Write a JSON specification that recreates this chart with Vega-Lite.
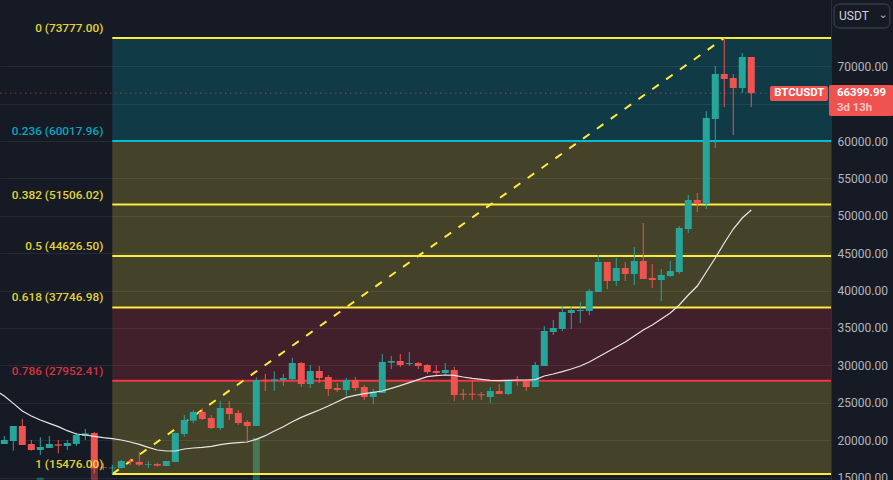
{"$schema":"https://vega.github.io/schema/vega-lite/v6.json","width":831,"height":480,"autosize":{"type":"none"},"padding":{"left":0,"top":0,"right":62,"bottom":0},"background":"#161a25","view":{"stroke":null},"config":{"scale":{"continuousPadding":0}},
"datasets":{
"candles":[
{"week":0,"open":19483,"high":20553,"low":19483,"close":20018,"direction":"up"},
{"week":1,"open":19884,"high":21890,"low":18591,"close":21890,"direction":"up"},
{"week":2,"open":21890,"high":22826,"low":19349,"close":19349,"direction":"down"},
{"week":3,"open":19483,"high":20018,"low":18591,"close":18681,"direction":"down"},
{"week":4,"open":18681,"high":20375,"low":18012,"close":19082,"direction":"up"},
{"week":5,"open":18948,"high":20553,"low":18948,"close":19483,"direction":"up"},
{"week":6,"open":19438,"high":20018,"low":18235,"close":19260,"direction":"down"},
{"week":7,"open":19215,"high":20018,"low":18681,"close":19617,"direction":"up"},
{"week":8,"open":19483,"high":20999,"low":19215,"close":20687,"direction":"up"},
{"week":9,"open":20553,"high":21489,"low":20018,"close":20909,"direction":"up"},
{"week":10,"open":20954,"high":21088,"low":15560,"close":16229,"direction":"down"},
{"week":11,"open":16363,"high":16897,"low":16006,"close":16273,"direction":"down"},
{"week":12,"open":16229,"high":16719,"low":15476,"close":16318,"direction":"up"},
{"week":13,"open":16273,"high":17343,"low":16229,"close":17209,"direction":"up"},
{"week":14,"open":17165,"high":17566,"low":16675,"close":17076,"direction":"down"},
{"week":15,"open":17076,"high":18413,"low":16541,"close":16719,"direction":"down"},
{"week":16,"open":16719,"high":17165,"low":16273,"close":16808,"direction":"up"},
{"week":17,"open":16808,"high":16987,"low":16452,"close":16585,"direction":"down"},
{"week":18,"open":16541,"high":17209,"low":16541,"close":17209,"direction":"up"},
{"week":19,"open":17076,"high":21000,"low":17076,"close":20954,"direction":"up"},
{"week":20,"open":20820,"high":23361,"low":20464,"close":22693,"direction":"up"},
{"week":21,"open":22603,"high":24030,"low":22247,"close":23762,"direction":"up"},
{"week":22,"open":23762,"high":24253,"low":22693,"close":22826,"direction":"down"},
{"week":23,"open":22960,"high":23361,"low":21489,"close":21623,"direction":"down"},
{"week":24,"open":21623,"high":25235,"low":21355,"close":24297,"direction":"up"},
{"week":25,"open":24297,"high":25235,"low":22693,"close":23495,"direction":"down"},
{"week":26,"open":23629,"high":24030,"low":22024,"close":22291,"direction":"down"},
{"week":27,"open":22425,"high":22693,"low":19706,"close":21890,"direction":"down"},
{"week":28,"open":21890,"high":28398,"low":21890,"close":28042,"direction":"up"},
{"week":29,"open":28086,"high":28844,"low":26571,"close":27997,"direction":"down"},
{"week":30,"open":27953,"high":29201,"low":26571,"close":28131,"direction":"up"},
{"week":31,"open":28042,"high":28844,"low":27239,"close":28309,"direction":"up"},
{"week":32,"open":28131,"high":30984,"low":28042,"close":30315,"direction":"up"},
{"week":33,"open":30315,"high":30449,"low":27106,"close":27507,"direction":"down"},
{"week":34,"open":27507,"high":30048,"low":26972,"close":29245,"direction":"up"},
{"week":35,"open":29245,"high":29914,"low":27641,"close":28309,"direction":"down"},
{"week":36,"open":28443,"high":28710,"low":25902,"close":26838,"direction":"down"},
{"week":37,"open":26972,"high":27641,"low":26437,"close":26704,"direction":"down"},
{"week":38,"open":26704,"high":28309,"low":25902,"close":28042,"direction":"up"},
{"week":39,"open":28042,"high":28443,"low":26571,"close":26972,"direction":"down"},
{"week":40,"open":27106,"high":27373,"low":25367,"close":25768,"direction":"down"},
{"week":41,"open":25768,"high":26838,"low":24832,"close":26482,"direction":"up"},
{"week":42,"open":26303,"high":31519,"low":26303,"close":30449,"direction":"up"},
{"week":43,"open":30359,"high":31251,"low":29513,"close":30583,"direction":"up"},
{"week":44,"open":30583,"high":31519,"low":29780,"close":30048,"direction":"down"},
{"week":45,"open":30181,"high":31786,"low":29914,"close":30315,"direction":"up"},
{"week":46,"open":30315,"high":30449,"low":29513,"close":29914,"direction":"down"},
{"week":47,"open":30048,"high":30181,"low":28844,"close":29112,"direction":"down"},
{"week":48,"open":29245,"high":30048,"low":28710,"close":28978,"direction":"down"},
{"week":49,"open":28978,"high":30315,"low":28710,"close":29379,"direction":"up"},
{"week":50,"open":29379,"high":29780,"low":25235,"close":26036,"direction":"down"},
{"week":51,"open":26214,"high":26838,"low":25367,"close":26080,"direction":"down"},
{"week":52,"open":26214,"high":28042,"low":25367,"close":26080,"direction":"down"},
{"week":53,"open":26125,"high":26437,"low":25367,"close":25991,"direction":"down"},
{"week":54,"open":25768,"high":27106,"low":24966,"close":26571,"direction":"up"},
{"week":55,"open":26571,"high":27507,"low":26170,"close":26170,"direction":"down"},
{"week":56,"open":26170,"high":28042,"low":26036,"close":28042,"direction":"up"},
{"week":57,"open":28086,"high":28577,"low":27239,"close":27997,"direction":"down"},
{"week":58,"open":27908,"high":28042,"low":26571,"close":27106,"direction":"down"},
{"week":59,"open":27106,"high":30449,"low":27106,"close":30048,"direction":"up"},
{"week":60,"open":29914,"high":35263,"low":29914,"close":34594,"direction":"up"},
{"week":61,"open":34460,"high":36065,"low":34059,"close":34995,"direction":"up"},
{"week":62,"open":34862,"high":37937,"low":34594,"close":37135,"direction":"up"},
{"week":63,"open":37001,"high":37937,"low":34862,"close":37402,"direction":"up"},
{"week":64,"open":37269,"high":38472,"low":35664,"close":37402,"direction":"up"},
{"week":65,"open":37269,"high":40211,"low":36734,"close":39943,"direction":"up"},
{"week":66,"open":39810,"high":44758,"low":39810,"close":43821,"direction":"up"},
{"week":67,"open":43821,"high":43821,"low":40211,"close":41281,"direction":"down"},
{"week":68,"open":41281,"high":44356,"low":40612,"close":43019,"direction":"up"},
{"week":69,"open":43019,"high":43821,"low":41281,"close":42217,"direction":"down"},
{"week":70,"open":42217,"high":45827,"low":40746,"close":43955,"direction":"up"},
{"week":71,"open":43955,"high":49037,"low":41548,"close":41548,"direction":"down"},
{"week":72,"open":41682,"high":43554,"low":40344,"close":41414,"direction":"down"},
{"week":73,"open":41414,"high":42885,"low":38606,"close":42083,"direction":"up"},
{"week":74,"open":41949,"high":43955,"low":41816,"close":42618,"direction":"up"},
{"week":75,"open":42484,"high":48636,"low":42217,"close":48368,"direction":"up"},
{"week":76,"open":48235,"high":52781,"low":47700,"close":52113,"direction":"up"},
{"week":77,"open":52113,"high":53049,"low":50508,"close":51578,"direction":"down"},
{"week":78,"open":51578,"high":64015,"low":50909,"close":63079,"direction":"up"},
{"week":79,"open":62945,"high":70032,"low":59067,"close":68963,"direction":"up"},
{"week":80,"open":68963,"high":73777,"low":64550,"close":68294,"direction":"down"},
{"week":81,"open":68428,"high":68963,"low":60805,"close":67090,"direction":"down"},
{"week":82,"open":67090,"high":71771,"low":66422,"close":71236,"direction":"up"},
{"week":83,"open":71236,"high":71236,"low":64550,"close":66399.99,"direction":"down"}
],
"ma":[
{"week":-1,"ma":26700},{"week":0,"ma":25902},{"week":1,"ma":24921},{"week":2,"ma":23896},{"week":3,"ma":23227},{"week":4,"ma":22693},{"week":5,"ma":22247},{"week":6,"ma":21801},{"week":7,"ma":21266},{"week":8,"ma":20820},{"week":9,"ma":20687},{"week":10,"ma":20508},{"week":11,"ma":20330},{"week":12,"ma":20196},{"week":13,"ma":20018},{"week":14,"ma":19750},{"week":15,"ma":19438},{"week":16,"ma":19037},{"week":17,"ma":18681},{"week":18,"ma":18547},{"week":19,"ma":18547},{"week":20,"ma":18814},{"week":21,"ma":18948},{"week":22,"ma":19037},{"week":23,"ma":19171},{"week":24,"ma":19394},{"week":25,"ma":19572},{"week":26,"ma":19661},{"week":27,"ma":19750},{"week":28,"ma":20107},{"week":29,"ma":20597},{"week":30,"ma":21222},{"week":31,"ma":21801},{"week":32,"ma":22470},{"week":33,"ma":23049},{"week":34,"ma":23539},{"week":35,"ma":24030},{"week":36,"ma":24565},{"week":37,"ma":25144},{"week":38,"ma":25724},{"week":39,"ma":25991},{"week":40,"ma":26214},{"week":41,"ma":26392},{"week":42,"ma":26571},{"week":43,"ma":26927},{"week":44,"ma":27284},{"week":45,"ma":27685},{"week":46,"ma":28086},{"week":47,"ma":28488},{"week":48,"ma":28621},{"week":49,"ma":28710},{"week":50,"ma":28666},{"week":51,"ma":28443},{"week":52,"ma":28265},{"week":53,"ma":28131},{"week":54,"ma":27997},{"week":55,"ma":27953},{"week":56,"ma":27997},{"week":57,"ma":28042},{"week":58,"ma":28042},{"week":59,"ma":28086},{"week":60,"ma":28577},{"week":61,"ma":28844},{"week":62,"ma":29156},{"week":63,"ma":29513},{"week":64,"ma":29914},{"week":65,"ma":30448},{"week":66,"ma":31117},{"week":67,"ma":31786},{"week":68,"ma":32454},{"week":69,"ma":33123},{"week":70,"ma":33925},{"week":71,"ma":34728},{"week":72,"ma":35396},{"week":73,"ma":36199},{"week":74,"ma":37001},{"week":75,"ma":38071},{"week":76,"ma":39408},{"week":77,"ma":40612},{"week":78,"ma":42484},{"week":79,"ma":44356},{"week":80,"ma":46362},{"week":81,"ma":48235},{"week":82,"ma":49706},{"week":83,"ma":50775}
],
"fib":[
{"level":"0","price":73777,"next_price":60017.96,"label":"0 (73777.00)","tone":"yellow","zone_tone":"cyan","start_week":12,"end_week":92,"label_week":11},
{"level":"0.236","price":60017.96,"next_price":51506.02,"label":"0.236 (60017.96)","tone":"cyan","zone_tone":"yellow","start_week":12,"end_week":92,"label_week":11},
{"level":"0.382","price":51506.02,"next_price":44626.5,"label":"0.382 (51506.02)","tone":"yellow","zone_tone":"yellow","start_week":12,"end_week":92,"label_week":11},
{"level":"0.5","price":44626.5,"next_price":37746.98,"label":"0.5 (44626.50)","tone":"yellow","zone_tone":"yellow","start_week":12,"end_week":92,"label_week":11},
{"level":"0.618","price":37746.98,"next_price":27952.41,"label":"0.618 (37746.98)","tone":"yellow","zone_tone":"red","start_week":12,"end_week":92,"label_week":11},
{"level":"0.786","price":27952.41,"next_price":15476,"label":"0.786 (27952.41)","tone":"red","zone_tone":"yellow","start_week":12,"end_week":92,"label_week":11},
{"level":"1","price":15476,"next_price":15476,"label":"1 (15476.00)","tone":"yellow","zone_tone":"yellow","start_week":12,"end_week":92,"label_week":11}
],
"trend":[{"week":12,"price":15476},{"week":80,"price":73777}],
"last":[{"week":-1,"price":66399.99},{"week":85,"price":66399.99}],
"volume":[{"week":4,"volume":0.5,"direction":"up"},{"week":10,"volume":2.7,"direction":"down"},{"week":28,"volume":8.75,"direction":"up"}],
"tagBoxes":[{"start":85.08,"end":91.52,"top":67358,"bottom":65352},{"start":91.63,"end":98.8,"top":67492,"bottom":63346}],
"tagTexts":[{"week":85.55,"price":66399.99,"text":"BTCUSDT","role":"main"},{"week":92.52,"price":66399.99,"text":"66399.99","role":"main"},{"week":92.52,"price":64416,"text":"3d 13h","role":"sub"}],
"button":[{"start":92.2,"end":98.4,"top":78324,"bottom":75114}],
"buttonText":[{"week":92.75,"price":76700,"text":"USDT"}],
"buttonChevron":[{"week":97.65,"price":76850,"text":"⌄"}]
},
"layer":[
{"data":{"name":"candles"},"mark":{"type":"rule","strokeWidth":1,"opacity":0},"encoding":{"x":{"field":"week","type":"quantitative","scale":{"domain":[-0.478,91.86],"nice":false,"zero":false},"axis":{"values":[1,18,28,40,58,70,79,88],"grid":true,"gridColor":"#262a35","gridWidth":1,"labels":false,"ticks":false,"domain":false,"title":null}},"y":{"field":"low","type":"quantitative","scale":{"domain":[14670,78859],"nice":false,"zero":false},"axis":{"orient":"right","values":[15000,20000,25000,30000,35000,40000,45000,50000,55000,60000,65000,70000],"format":".2f","grid":true,"gridColor":"#262a35","gridWidth":1,"ticks":false,"domain":true,"domainColor":"#2a2e39","labelColor":"#b2b5be","labelFont":"Roboto","labelFontSize":12,"labelPadding":6,"title":null}},"y2":{"field":"high"}}},
{"data":{"name":"volume"},"mark":{"type":"bar","size":7,"orient":"vertical","opacity":0.45},"encoding":{"x":{"field":"week","type":"quantitative","scale":{"domain":[-0.478,91.86],"nice":false,"zero":false},"axis":null},"y":{"field":"volume","type":"quantitative","scale":{"domain":[0,100],"nice":false},"axis":null},"color":{"field":"direction","type":"nominal","legend":null,"scale":{"domain":["up","down","cyan","yellow","red"],"range":["#26a69a","#ef5350","#00bcd4","#ffeb3b","#f23645"]}}}},
{"layer":[
{"data":{"name":"fib"},"mark":{"type":"rect","opacity":0.2,"clip":true},"encoding":{"x":{"field":"start_week","type":"quantitative","scale":{"domain":[-0.478,91.86],"nice":false,"zero":false},"axis":null},"x2":{"field":"end_week"},"y":{"field":"price","type":"quantitative","scale":{"domain":[14670,78859],"nice":false,"zero":false},"axis":null},"y2":{"field":"next_price"},"color":{"field":"zone_tone","type":"nominal","legend":null,"scale":{"domain":["up","down","cyan","yellow","red"],"range":["#26a69a","#ef5350","#00bcd4","#ffeb3b","#f23645"]}}}},
{"data":{"name":"fib"},"mark":{"type":"rule","strokeWidth":2,"clip":true},"encoding":{"x":{"field":"start_week","type":"quantitative","scale":{"domain":[-0.478,91.86],"nice":false,"zero":false},"axis":null},"x2":{"field":"end_week"},"y":{"field":"price","type":"quantitative","axis":null},"color":{"field":"tone","type":"nominal","legend":null,"scale":{"domain":["up","down","cyan","yellow","red"],"range":["#26a69a","#ef5350","#00bcd4","#ffeb3b","#f23645"]}}}},
{"data":{"name":"trend"},"mark":{"type":"line","color":"#ffeb3b","strokeWidth":2,"strokeDash":[8,9]},"encoding":{"x":{"field":"week","type":"quantitative","scale":{"domain":[-0.478,91.86],"nice":false,"zero":false},"axis":null},"y":{"field":"price","type":"quantitative","axis":null}}},
{"data":{"name":"last"},"mark":{"type":"line","color":"#ef5350","strokeWidth":1,"strokeDash":[1,4],"clip":true,"opacity":0.8},"encoding":{"x":{"field":"week","type":"quantitative","scale":{"domain":[-0.478,91.86],"nice":false,"zero":false},"axis":null},"y":{"field":"price","type":"quantitative","axis":null}}},
{"data":{"name":"candles"},"mark":{"type":"rule","strokeWidth":1,"clip":true},"encoding":{"x":{"field":"week","type":"quantitative","scale":{"domain":[-0.478,91.86],"nice":false,"zero":false},"axis":null},"y":{"field":"low","type":"quantitative","axis":null},"y2":{"field":"high"},"color":{"field":"direction","type":"nominal","legend":null,"scale":{"domain":["up","down","cyan","yellow","red"],"range":["#26a69a","#ef5350","#00bcd4","#ffeb3b","#f23645"]}}}},
{"data":{"name":"candles"},"mark":{"type":"bar","size":7,"orient":"vertical","clip":true},"encoding":{"x":{"field":"week","type":"quantitative","scale":{"domain":[-0.478,91.86],"nice":false,"zero":false},"axis":null},"y":{"field":"open","type":"quantitative","axis":null},"y2":{"field":"close"},"color":{"field":"direction","type":"nominal","legend":null,"scale":{"domain":["up","down","cyan","yellow","red"],"range":["#26a69a","#ef5350","#00bcd4","#ffeb3b","#f23645"]}}}},
{"data":{"name":"ma"},"mark":{"type":"line","color":"#e6e6e6","strokeWidth":1.2,"clip":true},"encoding":{"x":{"field":"week","type":"quantitative","scale":{"domain":[-0.478,91.86],"nice":false,"zero":false},"axis":null},"y":{"field":"ma","type":"quantitative","axis":null}}},
{"data":{"name":"fib"},"mark":{"type":"text","align":"right","baseline":"middle","dy":-10,"font":"Roboto","fontSize":11.8,"fontWeight":500,"opacity":0.88},"encoding":{"x":{"field":"label_week","type":"quantitative","scale":{"domain":[-0.478,91.86],"nice":false,"zero":false},"axis":null},"y":{"field":"price","type":"quantitative","axis":null},"text":{"field":"label"},"color":{"field":"tone","type":"nominal","legend":null,"scale":{"domain":["up","down","cyan","yellow","red"],"range":["#26a69a","#ef5350","#00bcd4","#ffeb3b","#f23645"]}}}},
{"data":{"name":"tagBoxes"},"mark":{"type":"rect","color":"#ef5350","cornerRadius":2},"encoding":{"x":{"field":"start","type":"quantitative","scale":{"domain":[-0.478,91.86],"nice":false,"zero":false},"axis":null},"x2":{"field":"end"},"y":{"field":"top","type":"quantitative","axis":null},"y2":{"field":"bottom"}}},
{"data":{"name":"tagTexts"},"mark":{"type":"text","align":"left","baseline":"middle","font":"Roboto","fontSize":11.4,"fontWeight":"bold","color":"#ffffff"},"encoding":{"x":{"field":"week","type":"quantitative","scale":{"domain":[-0.478,91.86],"nice":false,"zero":false},"axis":null},"y":{"field":"price","type":"quantitative","axis":null},"text":{"field":"text"},"opacity":{"field":"role","type":"nominal","legend":null,"scale":{"domain":["main","sub"],"range":[1,0.65]}}}},
{"data":{"name":"button"},"mark":{"type":"rect","fillOpacity":0,"stroke":"#434651","strokeWidth":1,"cornerRadius":5},"encoding":{"x":{"field":"start","type":"quantitative","scale":{"domain":[-0.478,91.86],"nice":false,"zero":false},"axis":null},"x2":{"field":"end"},"y":{"field":"top","type":"quantitative","axis":null},"y2":{"field":"bottom"}}},
{"data":{"name":"buttonText"},"mark":{"type":"text","align":"left","baseline":"middle","font":"Roboto","fontSize":12,"color":"#d1d4dc"},"encoding":{"x":{"field":"week","type":"quantitative","scale":{"domain":[-0.478,91.86],"nice":false,"zero":false},"axis":null},"y":{"field":"price","type":"quantitative","axis":null},"text":{"field":"text"}}},
{"data":{"name":"buttonChevron"},"mark":{"type":"text","align":"center","baseline":"middle","font":"DejaVu Sans","fontSize":11,"color":"#b2b5be"},"encoding":{"x":{"field":"week","type":"quantitative","scale":{"domain":[-0.478,91.86],"nice":false,"zero":false},"axis":null},"y":{"field":"price","type":"quantitative","axis":null},"text":{"field":"text"}}}
]}
],
"resolve":{"scale":{"y":"independent"}}}
